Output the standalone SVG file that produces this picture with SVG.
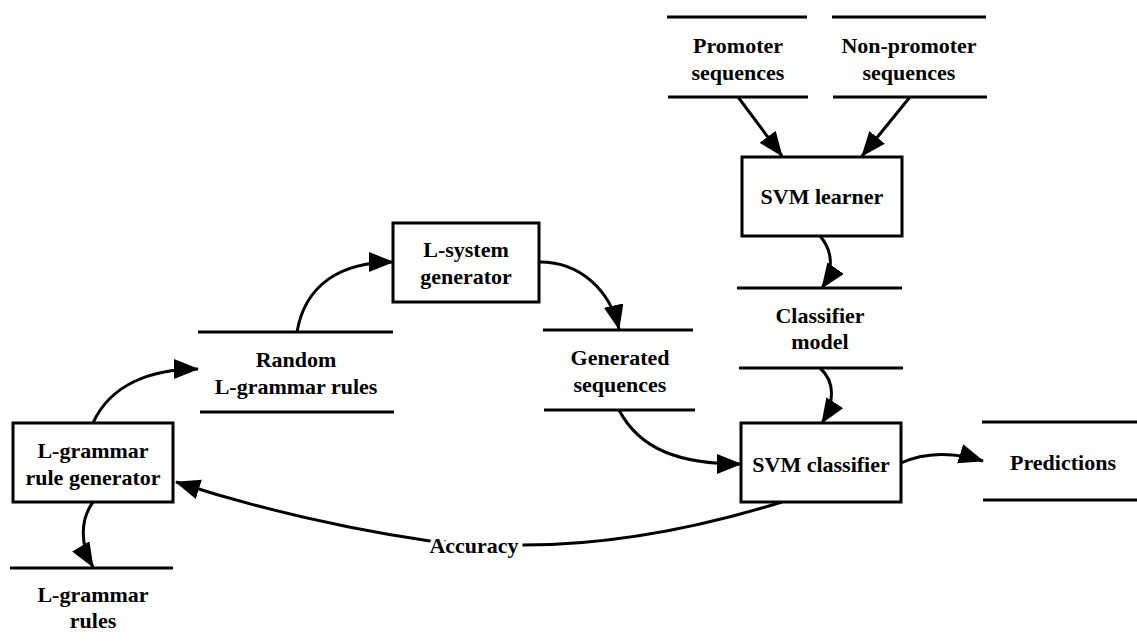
<svg xmlns="http://www.w3.org/2000/svg" width="1137" height="641" viewBox="0 0 1137 641">
<style>
text{font-family:"Liberation Serif","Times New Roman",serif;font-weight:bold;font-size:22px;fill:#000;text-anchor:middle}
.box{fill:#fff;stroke:#000;stroke-width:3}
.store{stroke:#000;stroke-width:3}
.edge{fill:none;stroke:#000;stroke-width:3;marker-end:url(#ah)}
.lbl{paint-order:stroke;stroke:#fff;stroke-width:8px}
</style>
<defs>
<marker id="ah" markerUnits="userSpaceOnUse" markerWidth="27" markerHeight="22" refX="24" refY="10" orient="auto">
<path d="M0,0 L25,10 L0,20 z" fill="#000"/>
</marker>
</defs>
<rect width="1137" height="641" fill="#fff"/>
<g id="connectors">
<path class="edge" d="M738,97 L782,156"/>
<path class="edge" d="M910,97 L862,156"/>
<path class="edge" d="M820,236 C834,252 833,272 822,288"/>
<path class="edge" d="M820,368 C836,382 834,404 822,423"/>
<path class="edge" d="M619,410 C640,450 680,464 741,464"/>
<path class="edge" d="M540,262 C580,262 610,290 619,329"/>
<path class="edge" d="M297,332 C305,285 340,262 393,262"/>
<path class="edge" d="M93,423 C110,385 150,369 198,369"/>
<path class="edge" d="M93,502 C80,520 80,545 93,567"/>
<path class="edge" d="M901,463 C925,452 955,452 983,461"/>
<path class="edge" d="M782,502 Q640,546 518,545 L430,541 Q300,522 176,482"/>
<text class="lbl" x="474" y="553">Accuracy</text>
</g>
<g id="promoter">
<line class="store" x1="667" y1="17" x2="807" y2="17"/>
<line class="store" x1="668" y1="97" x2="808" y2="97"/>
<text x="738" y="53">Promoter</text>
<text x="738" y="80">sequences</text>
</g>
<g id="nonpromoter">
<line class="store" x1="832" y1="17" x2="986" y2="17"/>
<line class="store" x1="833" y1="97" x2="987" y2="97"/>
<text x="909" y="53">Non-promoter</text>
<text x="909" y="80">sequences</text>
</g>
<g id="svmlearner">
<rect class="box" x="742" y="157" width="160" height="79"/>
<text x="822" y="204">SVM learner</text>
</g>
<g id="classifiermodel">
<line class="store" x1="737" y1="288" x2="902" y2="288"/>
<line class="store" x1="739" y1="368" x2="903" y2="368"/>
<text x="820" y="323">Classifier</text>
<text x="820" y="349">model</text>
</g>
<g id="svmclassifier">
<rect class="box" x="741" y="423" width="160" height="79"/>
<text x="821" y="472">SVM classifier</text>
</g>
<g id="generated">
<line class="store" x1="543" y1="330" x2="693" y2="330"/>
<line class="store" x1="544" y1="410" x2="695" y2="410"/>
<text x="620" y="365">Generated</text>
<text x="620" y="392">sequences</text>
</g>
<g id="lsystem">
<rect class="box" x="393" y="223" width="146" height="79"/>
<text x="466" y="257">L-system</text>
<text x="466" y="284">generator</text>
</g>
<g id="random">
<line class="store" x1="198" y1="332" x2="393" y2="332"/>
<line class="store" x1="200" y1="412" x2="394" y2="412"/>
<text x="296" y="367">Random</text>
<text x="296" y="394">L-grammar rules</text>
</g>
<g id="rulegen">
<rect class="box" x="13" y="423" width="160" height="79"/>
<text x="93" y="458">L-grammar</text>
<text x="93" y="485">rule generator</text>
</g>
<g id="lgrammarrules">
<line class="store" x1="10" y1="568" x2="173" y2="568"/>
<text x="93" y="602">L-grammar</text>
<text x="93" y="628">rules</text>
</g>
<g id="predictions">
<line class="store" x1="982" y1="422" x2="1137" y2="422"/>
<line class="store" x1="983" y1="500" x2="1137" y2="500"/>
<text x="1063" y="470">Predictions</text>
</g>
</svg>
